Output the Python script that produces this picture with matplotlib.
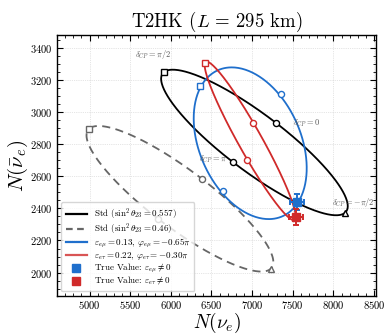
"""Event-rate ellipses in the N(nu_e) - N(anti-nu_e) plane for T2HK."""

import numpy as np
import matplotlib

matplotlib.use("Agg")
import matplotlib.pyplot as plt
from matplotlib.lines import Line2D
from matplotlib.ticker import MultipleLocator

matplotlib.rcParams.update(
    {
        "font.family": "serif",
        "font.serif": ["cmr10", "DejaVu Serif"],
        "mathtext.fontset": "cm",
        "axes.formatter.use_mathtext": True,
        "axes.unicode_minus": False,
        "xtick.direction": "in",
        "ytick.direction": "in",
        "xtick.top": True,
        "ytick.right": True,
        "xtick.minor.visible": True,
        "ytick.minor.visible": True,
    }
)

# points on each curve at delta_CP = 0, pi/2, pi, -pi/2  (N(nu_e), N(anti-nu_e))
DELTA_KEYS = ["0", "pi/2", "pi", "-pi/2"]
STD_557_NUE = [7290, 5913, 6763, 8147]
STD_557_NUEBAR = [2932, 3246, 2687, 2374]
STD_046_NUE = [6381, 4995, 5843, 7229]
STD_046_NUEBAR = [2584, 2895, 2335, 2024]
EMU_NUE = [7349, 6362, 6638, 7556]
EMU_NUEBAR = [3113, 3162, 2505, 2440]
ETAU_NUE = [7012, 6418, 6939, 7535]
ETAU_NUEBAR = [2930, 3304, 2699, 2345]

# true-value points with statistical errors
TRUE_EMU = (7556, 2440)
TRUE_EMU_ERR = (87, 49)
TRUE_ETAU = (7535, 2345)
TRUE_ETAU_ERR = (87, 48)

# delta_CP labels placed next to the standard (0.557) curve
LABEL_TEXT = [r"$\delta_{CP} = \pi/2$", r"$\delta_{CP} = 0$",
              r"$\delta_{CP} = \pi$", r"$\delta_{CP} = -\pi/2$"]
LABEL_X = [5560, 7505, 6345, 7982]
LABEL_Y = [3360, 2930, 2705, 2436]

BLUE = "#1f6fcc"
RED = "#d02a2a"
GRAY = "#666666"

MARKERS = {"0": "o", "pi/2": "s", "pi": "o", "-pi/2": "^"}


def ellipse(nue, nuebar, n=400):
    p = np.array([nue, nuebar], dtype=float)  # columns: 0, pi/2, pi, -pi/2
    c = p.mean(axis=1)
    a = (p[:, 0] - p[:, 2]) / 2
    b = (p[:, 1] - p[:, 3]) / 2
    d = np.linspace(-np.pi, np.pi, n)
    x = c[0] + a[0] * np.cos(d) + b[0] * np.sin(d)
    y = c[1] + a[1] * np.cos(d) + b[1] * np.sin(d)
    return x, y


def draw_curve(ax, nue, nuebar, color, ls="-", z=2):
    x, y = ellipse(nue, nuebar)
    ax.plot(x, y, color=color, ls=ls, lw=1.3, zorder=z,
            dashes=(4.5, 3) if ls == "--" else (None, None))
    for key, px, py in zip(DELTA_KEYS, nue, nuebar):
        ax.plot(px, py, marker=MARKERS[key], ms=4.4, mfc="white", mec=color,
                mew=1.0, ls="none", zorder=z + 0.5)


def main():
    fig = plt.figure(figsize=(3.85, 3.34), dpi=100)
    ax = fig.add_axes([0.148, 0.114, 0.829, 0.781])

    draw_curve(ax, STD_046_NUE, STD_046_NUEBAR, GRAY, ls="--", z=2)
    draw_curve(ax, STD_557_NUE, STD_557_NUEBAR, "black", z=3)
    draw_curve(ax, EMU_NUE, EMU_NUEBAR, BLUE, z=4)
    draw_curve(ax, ETAU_NUE, ETAU_NUEBAR, RED, z=5)

    for (tx, ty), (ex, ey), col in [(TRUE_EMU, TRUE_EMU_ERR, BLUE),
                                    (TRUE_ETAU, TRUE_ETAU_ERR, RED)]:
        ax.errorbar(tx, ty, xerr=ex, yerr=ey, fmt="s", color=col, ms=6,
                    elinewidth=1.4, capsize=2.5, capthick=1.4, zorder=8)

    for txt, lx, ly in zip(LABEL_TEXT, LABEL_X, LABEL_Y):
        ax.text(lx, ly, txt, fontsize=6, color="#555555", va="center", ha="left",
                zorder=9)

    ax.set_xlim(4600, 8525)
    ax.set_ylim(1855, 3478)
    ax.xaxis.set_major_locator(MultipleLocator(500))
    ax.xaxis.set_minor_locator(MultipleLocator(100))
    ax.yaxis.set_major_locator(MultipleLocator(200))
    ax.yaxis.set_minor_locator(MultipleLocator(50))
    ax.tick_params(which="major", length=4, width=0.8, labelsize=7.6, pad=3)
    ax.tick_params(axis="x", which="major", pad=2)
    ax.tick_params(which="minor", length=2, width=0.6)
    for s in ax.spines.values():
        s.set_linewidth(1.0)
    ax.grid(which="major", ls=":", lw=0.5, color="#cccccc")

    ax.set_title(r"T2HK ($L\,=\,295$ km)", fontsize=13.5, pad=6)
    ax.set_xlabel(r"$N(\nu_e)$", fontsize=14, labelpad=0)
    ax.set_ylabel(r"$N(\bar{\nu}_e)$", fontsize=15, labelpad=0)

    handles = [
        Line2D([], [], color="black", lw=1.6),
        Line2D([], [], color=GRAY, lw=1.6, ls="--", dashes=(3, 2)),
        Line2D([], [], color=BLUE, lw=1.6),
        Line2D([], [], color=RED, lw=1.6, alpha=0.8),
        Line2D([], [], color=BLUE, marker="s", ms=6, ls="none"),
        Line2D([], [], color=RED, marker="s", ms=6, ls="none"),
    ]
    labels = [
        r"Std ($\sin^2\theta_{23} = 0.557$)",
        r"Std ($\sin^2\theta_{23} = 0.46$)",
        r"$\varepsilon_{e\mu} = 0.13$, $\varphi_{e\mu} = -0.65\pi$",
        r"$\varepsilon_{e\tau} = 0.22$, $\varphi_{e\tau} = -0.30\pi$",
        r"True Value: $\varepsilon_{e\mu} \neq 0$",
        r"True Value: $\varepsilon_{e\tau} \neq 0$",
    ]
    ax.legend(handles, labels, loc="lower left", fontsize=6.5, handlelength=2.4,
              handletextpad=0.7, borderaxespad=0.5, labelspacing=0.0,
              borderpad=0.45, framealpha=0.8, edgecolor="#cccccc")

    fig.savefig("out.png", dpi=100)
    plt.close(fig)


if __name__ == "__main__":
    main()
